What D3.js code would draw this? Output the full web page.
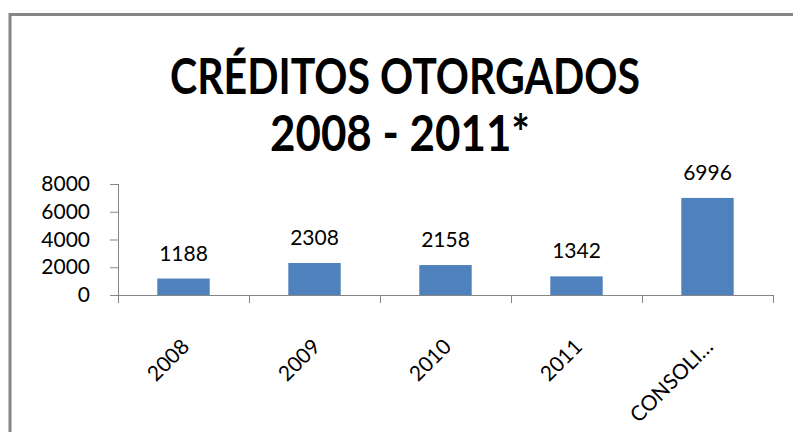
<!DOCTYPE html>
<meta charset="utf-8">
<html>
<script src="https://d3js.org/d3.v7.min.js"></script>
<style>
    body { margin: 0; background: #fff; }
    text { font-family: Lato, "Open Sans", sans-serif; }
</style>
<body>
<div id="chart"></div>
<script>
    // chart values
    var categories = ["2008", "2009", "2010", "2011", "CONSOLI…"];
    var values = [1188, 2308, 2158, 1342, 6996];
    var yTicks = [0, 2000, 4000, 6000, 8000];
    var titleLines = ["CRÉDITOS OTORGADOS", "2008 - 2011*"];

    var W = 793, H = 432;
    var plot = { left: 118, right: 773, top: 184, bottom: 295 };
    var axisColor = "#868686";
    var barColor = "#4f81bd";

    var svg = d3.select("#chart").append("svg")
        .attr("width", W)
        .attr("height", H);

    svg.append("rect").attr("width", W).attr("height", H).attr("fill", "#fff");

    // outer chart border (runs off the right and bottom of the picture)
    svg.append("rect")
        .attr("x", 10).attr("y", 14.5)
        .attr("width", 900).attr("height", 500)
        .attr("fill", "none")
        .attr("stroke", axisColor)
        .attr("stroke-width", 3);

    // title
    svg.append("text")
        .attr("x", 405).attr("y", 94)
        .attr("text-anchor", "middle")
        .attr("font-size", 50).attr("font-weight", "bold")
        .attr("textLength", 470).attr("lengthAdjust", "spacingAndGlyphs")
        .text(titleLines[0]);
    svg.append("text")
        .attr("x", 400).attr("y", 151)
        .attr("text-anchor", "middle")
        .attr("font-size", 50).attr("font-weight", "bold")
        .attr("textLength", 260).attr("lengthAdjust", "spacingAndGlyphs")
        .text(titleLines[1]);

    // scales
    var y = d3.scaleLinear().domain([0, 8000]).range([plot.bottom, plot.top]);
    var xCat = d3.scaleBand().domain(categories).range([plot.left, plot.right]).padding(0);
    var x = d3.scaleBand().domain(categories).range([plot.left, plot.right])
        .paddingInner(0.6).paddingOuter(0.3);

    // bars
    svg.append("g").selectAll("rect")
        .data(values).enter().append("rect")
        .attr("x", function (d, i) { return x(categories[i]); })
        .attr("y", function (d) { return y(d); })
        .attr("width", x.bandwidth())
        .attr("height", function (d) { return y(0) - y(d); })
        .attr("fill", barColor);

    // data labels
    svg.append("g").selectAll("text")
        .data(values).enter().append("text")
        .attr("x", function (d, i) { return x(categories[i]) + x.bandwidth() / 2; })
        .attr("y", function (d) { return y(d) - 18; })
        .attr("text-anchor", "middle")
        .attr("font-size", 21)
        .attr("fill", "#000")
        .text(function (d) { return d; });

    // y axis
    var yAxis = svg.append("g")
        .attr("transform", "translate(" + plot.left + ",0)")
        .call(d3.axisLeft(y).tickValues(yTicks).tickFormat(d3.format("d"))
            .tickSize(8).tickSizeOuter(0).tickPadding(20));
    yAxis.select(".domain").attr("stroke", axisColor).attr("d", "M0.5," + (plot.top) + "V" + (plot.bottom + 8));
    yAxis.selectAll(".tick line").attr("stroke", axisColor);
    yAxis.selectAll(".tick text")
        .attr("font-size", 21).attr("fill", "#000")
        .attr("font-family", "Lato, 'Open Sans', sans-serif");

    // x axis line and category boundary ticks
    var xAxis = svg.append("g");
    xAxis.append("line")
        .attr("x1", plot.left - 8).attr("x2", plot.right)
        .attr("y1", y(0) + 0.5).attr("y2", y(0) + 0.5)
        .attr("stroke", axisColor);
    var bounds = categories.map(function (c) { return xCat(c); }).concat([plot.right]);
    xAxis.selectAll(".bt")
        .data(bounds).enter().append("line")
        .attr("x1", function (d) { return Math.round(d) + 0.5; })
        .attr("x2", function (d) { return Math.round(d) + 0.5; })
        .attr("y1", y(0)).attr("y2", y(0) + 8)
        .attr("stroke", axisColor);

    // rotated category labels
    xAxis.selectAll(".cl")
        .data(categories).enter().append("text")
        .attr("transform", function (c) {
            var cx = xCat(c) + xCat.bandwidth() / 2 + 7;
            return "translate(" + cx + "," + (y(0) + 53) + ") rotate(-45)";
        })
        .attr("text-anchor", "end")
        .attr("font-size", 21)
        .attr("fill", "#000")
        .text(function (c) { return c; });
</script>
</body>
</html>
